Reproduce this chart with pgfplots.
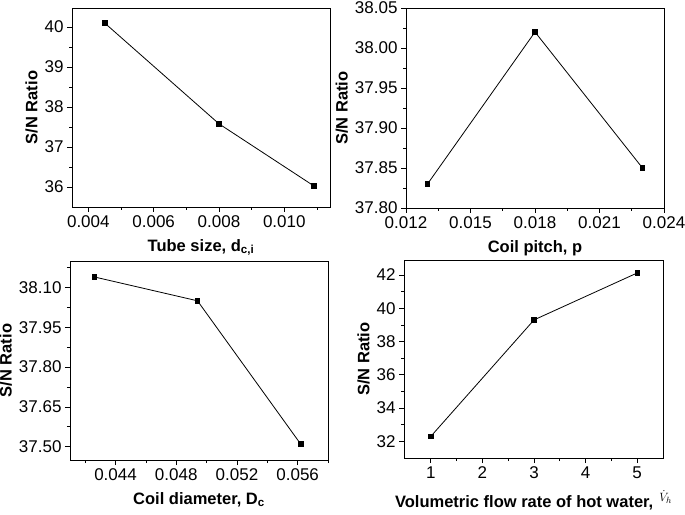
\documentclass[border=0pt]{standalone}
\usepackage{pgfplots}
\pgfplotsset{compat=1.18}
\usepackage{fontspec}
\setmainfont{Liberation Sans}
\begin{document}
\begin{tikzpicture}
\pgfplotsset{
  panel/.style={
    scale only axis,
    axis line style={line width=0.8pt},
    tick align=outside, tick pos=left,
    major tick length=5pt, minor tick length=3pt,
    every tick/.style={black, line width=0.7pt},
    minor x tick num=1, minor y tick num=1,
    scaled ticks=false,
    ticklabel style={font=\fontsize{17}{17}\selectfont},
    label style={font=\fontsize{16.5}{18}\selectfont\bfseries},
    xlabel style={yshift=-5pt},
    /pgf/number format/assume math mode=true,
    ylabel={S/N Ratio},
  },
  sn/.style={black, line width=0.8pt, mark=square*, mark size=2.3pt, mark options={solid}},
}
\path[use as bounding box] (0pt,0pt) rectangle (685pt,514pt);

% tube size
\begin{axis}[panel, at={(72pt,307pt)}, width=258pt, height=199pt,
  xmin=0.0035, xmax=0.0114, ymin=35.5, ymax=40.475,
  xtick={0.004,0.006,0.008,0.010}, minor xtick={0.005,0.007,0.009,0.011},
  ytick={36,37,38,39,40},
  x tick label style={/pgf/number format/fixed, /pgf/number format/fixed zerofill, /pgf/number format/precision=3},
  xlabel={Tube size, d\textsubscript{c,i}}]
\addplot[sn] coordinates {(0.0045,40.1) (0.008,37.58) (0.0109,36.03)};
\end{axis}

% coil pitch
\begin{axis}[panel, at={(406pt,306pt)}, width=258pt, height=200pt,
  xmin=0.012, xmax=0.024, ymin=37.80, ymax=38.05,
  xtick={0.012,0.015,0.018,0.021,0.024},
  ytick={37.80,37.85,37.90,37.95,38.00,38.05},
  x tick label style={/pgf/number format/fixed, /pgf/number format/fixed zerofill, /pgf/number format/precision=3},
  y tick label style={/pgf/number format/fixed, /pgf/number format/fixed zerofill, /pgf/number format/precision=2},
  xlabel={Coil pitch, p}]
\addplot[sn] coordinates {(0.013,37.83) (0.018,38.02) (0.023,37.85)};
\end{axis}

% coil diameter
\begin{axis}[panel, at={(70pt,54pt)}, width=258pt, height=199pt,
  xmin=0.041, xmax=0.058, ymin=37.45, ymax=38.20,
  xtick={0.044,0.048,0.052,0.056}, minor xtick={0.042,0.046,0.050,0.054,0.058},
  ytick={37.50,37.65,37.80,37.95,38.10}, minor ytick={37.575,37.725,37.875,38.025,38.175},
  x tick label style={/pgf/number format/fixed, /pgf/number format/fixed zerofill, /pgf/number format/precision=3},
  y tick label style={/pgf/number format/fixed, /pgf/number format/fixed zerofill, /pgf/number format/precision=2},
  xlabel={Coil diameter, D\textsubscript{c}}]
\addplot[sn] coordinates {(0.0426,38.14) (0.0494,38.05) (0.0562,37.51)};
\end{axis}

% flow rate
\begin{axis}[panel, at={(404pt,56pt)}, width=259pt, height=198pt,
  xmin=0.48, xmax=5.5, ymin=31, ymax=42.9,
  xtick={1,2,3,4,5}, ytick={32,34,36,38,40,42},
  xlabel={Volumetric flow rate of hot water,\hspace{6pt}\raisebox{6pt}{\fontsize{13}{13}\selectfont$\dot{V}_h$}}]
\addplot[sn] coordinates {(1,32.3) (3,39.3) (5,42.12)};
\end{axis}
\end{tikzpicture}
\end{document}
